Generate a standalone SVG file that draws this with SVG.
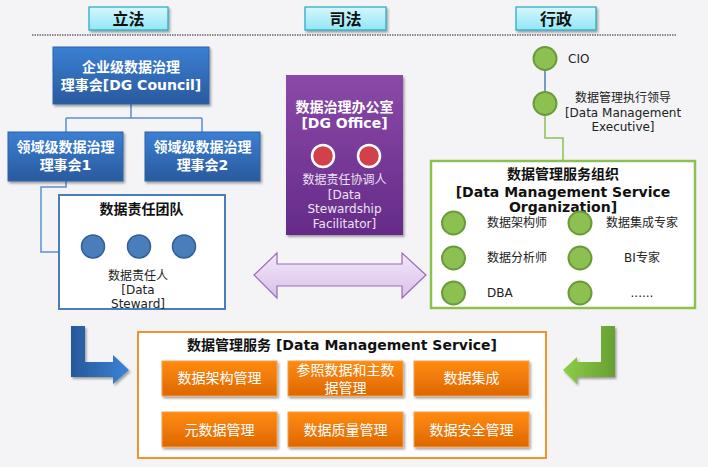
<svg xmlns="http://www.w3.org/2000/svg" width="708" height="467" viewBox="0 0 708 467">
<defs>
<linearGradient id="gHead" x1="0" y1="0" x2="0" y2="1"><stop offset="0" stop-color="#d6f7fd"/><stop offset="1" stop-color="#92e6f7"/></linearGradient>
<linearGradient id="gBlue" x1="0" y1="0" x2="0" y2="1"><stop offset="0" stop-color="#3b7fd2"/><stop offset="1" stop-color="#2a5a9e"/></linearGradient>
<linearGradient id="gPurple" x1="0" y1="0" x2="0" y2="1"><stop offset="0" stop-color="#8a49a8"/><stop offset="1" stop-color="#652b88"/></linearGradient>
<linearGradient id="gOrange" x1="0" y1="0" x2="0" y2="1"><stop offset="0" stop-color="#ff8c12"/><stop offset="1" stop-color="#de6700"/></linearGradient>
<linearGradient id="gLav" x1="0" y1="0" x2="0" y2="1"><stop offset="0" stop-color="#f3e8fa"/><stop offset="1" stop-color="#d9c0ea"/></linearGradient>
<linearGradient id="gBlueArr" x1="0" y1="0" x2="1" y2="0"><stop offset="0" stop-color="#27579a"/><stop offset="1" stop-color="#3a84d6"/></linearGradient>
<linearGradient id="gGreenArr" x1="0" y1="0" x2="1" y2="0"><stop offset="0" stop-color="#8fcd46"/><stop offset="1" stop-color="#66a032"/></linearGradient>
<filter id="sh" x="-10%" y="-10%" width="130%" height="130%"><feDropShadow dx="1.5" dy="2" stdDeviation="1.2" flood-color="#000" flood-opacity="0.35"/></filter>
<style>
text{font-family:"DejaVu Sans","Noto Sans CJK SC",sans-serif;}
.hd{font-size:16px;font-weight:bold;fill:#111;text-anchor:middle;}
.wb{font-size:14px;font-weight:bold;fill:#fff;text-anchor:middle;}
.bb{font-size:14px;font-weight:bold;fill:#111;text-anchor:middle;}
.t{font-size:12px;fill:#222;}
.tc{font-size:12px;fill:#222;text-anchor:middle;}
.tp{font-size:12px;fill:#ece2f2;text-anchor:middle;}
.bt{font-size:14px;fill:#fff;text-anchor:middle;}
.hbox{fill:url(#gHead);stroke:#1ea8c3;stroke-width:1.2;}
.bbox{fill:url(#gBlue);stroke:#2d62a8;stroke-width:1;}
.obtn{fill:url(#gOrange);stroke:#f2a050;stroke-width:1;}
.bc{fill:#4a7ebb;stroke:#2f5f98;stroke-width:1.5;}
.gc{fill:#8cc152;stroke:#6a9a3a;stroke-width:2;}
.rc{fill:#d2404a;stroke:#fff;stroke-width:2.5;}
.cb{fill:none;stroke:#5b8fd0;stroke-width:1.5;}
.cg{fill:none;stroke:#8cc152;stroke-width:1.5;}
</style>
</defs>
<rect x="0" y="0" width="708" height="467" fill="#f4f4f6"/>

<g id="headers">
<rect class="hbox" x="89" y="7" width="79" height="23" filter="url(#sh)"/>
<text class="hd" x="128.5" y="24.5">立法</text>
<rect class="hbox" x="305" y="7" width="81" height="23" filter="url(#sh)"/>
<text class="hd" x="345.5" y="24.5">司法</text>
<rect class="hbox" x="516" y="7" width="80" height="23" filter="url(#sh)"/>
<text class="hd" x="556" y="24.5">行政</text>
<line x1="32" y1="35" x2="676" y2="35" stroke="#222" stroke-width="1" stroke-dasharray="1.5 1"/>
</g>

<g id="connectors">
<path class="cb" d="M131,104 V118 M66,118 H202 M66,118 V132 M202,118 V132"/>
<path class="cb" d="M66,181 V187 H41 V252 H59"/>
<path d="M545,70 V92" fill="none" stroke="#4a7ebb" stroke-width="1.5"/>
<path class="cg" d="M545,115 V138 H563 V161"/>
<path d="M254,275 L277,253 L277,264 L402,264 L402,253 L426,275 L402,298 L402,286 L277,286 L277,298 Z" fill="url(#gLav)" stroke="#9a6ab8" stroke-width="1.2"/>
<path d="M71,326 L85,326 L85,362 L113,362 L113,355 L129,370 L113,384 L113,377 L71,377 Z" fill="url(#gBlueArr)" filter="url(#sh)"/>
<path d="M601,326 L615,326 L615,377 L577,377 L577,384 L563,370 L577,357 L577,362 L601,362 Z" fill="url(#gGreenArr)" filter="url(#sh)"/>
</g>

<g id="dg-council">
<rect class="bbox" x="53" y="47" width="156" height="57" filter="url(#sh)"/>
<text class="wb" x="131" y="72">企业级数据治理</text>
<text class="wb" x="131" y="90">理事会[DG Council]</text>
</g>

<g id="domain-council-1">
<rect class="bbox" x="8" y="132" width="115" height="49" filter="url(#sh)"/>
<text class="wb" x="65.5" y="152">领域级数据治理</text>
<text class="wb" x="65.5" y="170">理事会1</text>
</g>

<g id="domain-council-2">
<rect class="bbox" x="145" y="132" width="115" height="49" filter="url(#sh)"/>
<text class="wb" x="202.5" y="152">领域级数据治理</text>
<text class="wb" x="202.5" y="170">理事会2</text>
</g>

<g id="steward-team">
<rect x="59" y="195" width="166" height="114" fill="#fff" stroke="#4a7ebb" stroke-width="2"/>
<text class="bb" x="141.5" y="214">数据责任团队</text>
<circle class="bc" cx="93" cy="246.5" r="11.5"/>
<circle class="bc" cx="139" cy="246.5" r="11.5"/>
<circle class="bc" cx="184" cy="246.5" r="11.5"/>
<text class="tc" x="138" y="280">数据责任人</text>
<text class="tc" x="138" y="294">[Data</text>
<text class="tc" x="138" y="308">Steward]</text>
</g>

<g id="dg-office">
<rect x="286" y="75" width="117" height="160" fill="url(#gPurple)" filter="url(#sh)"/>
<text class="wb" x="344.5" y="112">数据治理办公室</text>
<text class="wb" x="344.5" y="128">[DG Office]</text>
<circle class="rc" cx="323" cy="156" r="11"/>
<circle class="rc" cx="369" cy="156" r="11"/>
<text class="tp" x="344.5" y="184">数据责任协调人</text>
<text class="tp" x="344.5" y="199">[Data</text>
<text class="tp" x="344.5" y="213">Stewardship</text>
<text class="tp" x="344.5" y="228">Facilitator]</text>
</g>

<g id="cio">
<circle class="gc" cx="545" cy="58.5" r="11.5"/>
<text class="t" x="568" y="62.5">CIO</text>
</g>

<g id="dm-executive">
<circle class="gc" cx="545" cy="103.5" r="11.5"/>
<text class="tc" x="623" y="102">数据管理执行领导</text>
<text class="tc" x="623" y="117">[Data Management</text>
<text class="tc" x="623" y="131">Executive]</text>
</g>

<g id="dm-service-org">
<rect x="431" y="161" width="264" height="147" fill="#fff" stroke="#8cc152" stroke-width="2.5"/>
<text class="bb" x="563" y="179">数据管理服务组织</text>
<text class="bb" x="563" y="197">[Data Management Service</text>
<text class="bb" x="563" y="212">Organization]</text>
<circle class="gc" cx="453.5" cy="223" r="11.5"/>
<circle class="gc" cx="453.5" cy="258" r="11.5"/>
<circle class="gc" cx="453.5" cy="293" r="11.5"/>
<circle class="gc" cx="580" cy="223" r="11.5"/>
<circle class="gc" cx="580" cy="258" r="11.5"/>
<circle class="gc" cx="580" cy="293" r="11.5"/>
<text class="t" x="487" y="227">数据架构师</text>
<text class="t" x="487" y="262">数据分析师</text>
<text class="t" x="487" y="297">DBA</text>
<text class="tc" x="642" y="227">数据集成专家</text>
<text class="tc" x="642" y="262">BI专家</text>
<text class="tc" x="642" y="297">......</text>
</g>

<g id="dm-service">
<rect x="138" y="332" width="408" height="126" fill="#fff" stroke="#f39030" stroke-width="2"/>
<text class="bb" x="342" y="350">数据管理服务 [Data Management Service]</text>
</g>

<g id="svc-architecture">
<rect class="obtn" x="162" y="361" width="115" height="35" filter="url(#sh)"/>
<text class="bt" x="219.5" y="383">数据架构管理</text>
</g>
<g id="svc-reference-master">
<rect class="obtn" x="288" y="361" width="115" height="35" filter="url(#sh)"/>
<text class="bt" x="345.5" y="375">参照数据和主数</text>
<text class="bt" x="345.5" y="393">据管理</text>
</g>
<g id="svc-integration">
<rect class="obtn" x="414" y="361" width="115" height="35" filter="url(#sh)"/>
<text class="bt" x="471.5" y="383">数据集成</text>
</g>
<g id="svc-metadata">
<rect class="obtn" x="162" y="412" width="115" height="35" filter="url(#sh)"/>
<text class="bt" x="219.5" y="435">元数据管理</text>
</g>
<g id="svc-quality">
<rect class="obtn" x="288" y="412" width="115" height="35" filter="url(#sh)"/>
<text class="bt" x="345.5" y="435">数据质量管理</text>
</g>
<g id="svc-security">
<rect class="obtn" x="414" y="412" width="115" height="35" filter="url(#sh)"/>
<text class="bt" x="471.5" y="435">数据安全管理</text>
</g>
</svg>
